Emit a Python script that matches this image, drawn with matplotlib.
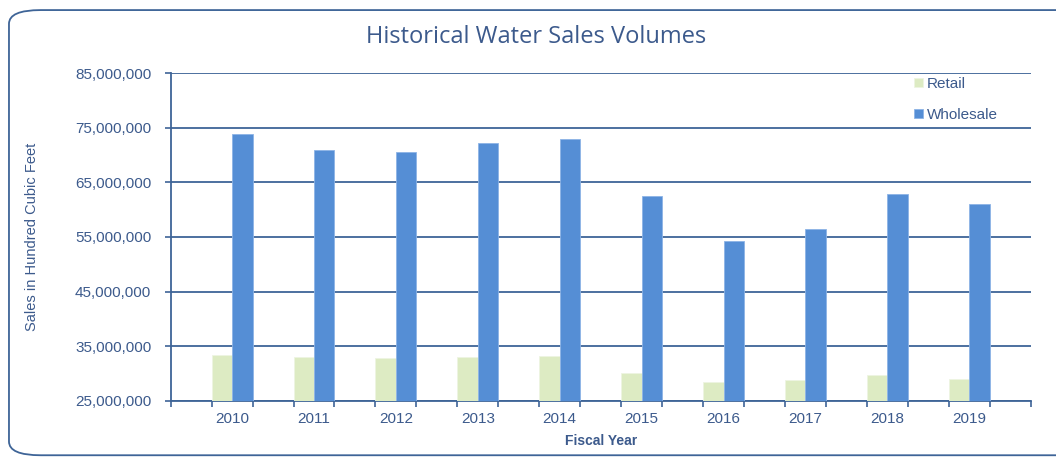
import numpy as np
import matplotlib.pyplot as plt
from matplotlib.patches import FancyBboxPatch
from matplotlib.ticker import FuncFormatter

# Annual sales volumes (hundred cubic feet)
years = ['2010', '2011', '2012', '2013', '2014', '2015', '2016', '2017', '2018', '2019']
retail = [33.5e6, 33.0e6, 32.8e6, 33.0e6, 33.2e6, 30.2e6, 28.5e6, 28.8e6, 29.8e6, 29.0e6]
wholesale = [73.8e6, 71.0e6, 70.5e6, 72.2e6, 72.9e6, 62.5e6, 54.3e6, 56.5e6, 62.9e6, 61.0e6]

text_col = '#3C5A8C'
line_col = '#3E6497'
retail_col = '#DDEBC3'
wholesale_col = '#558ED5'

plt.rcParams['font.family'] = ['Liberation Sans', 'DejaVu Sans']

fig = plt.figure(figsize=(10.56, 4.58), dpi=100)
ax = fig.add_axes([0.1616, 0.1245, 0.8145, 0.7161])

# rounded frame around the whole chart
frame = FancyBboxPatch((0.0085, 0.006), 1.2, 0.972,
                       boxstyle='round,pad=0,rounding_size=0.03',
                       transform=fig.transFigure, facecolor='none',
                       edgecolor=line_col, linewidth=1.3, clip_on=False)
fig.patches.append(frame)

x = np.arange(len(years))
w = 0.25
ax.bar(x - w / 2, retail, width=w, color=retail_col, edgecolor='#EEF5E2',
       linewidth=0.6, label='Retail', zorder=3)
ax.bar(x + w / 2, wholesale, width=w, color=wholesale_col, edgecolor='#8DB4E6',
       linewidth=0.6, label='Wholesale', zorder=3)

ax.set_xlim(-0.75, len(years) - 0.25)
ax.set_ylim(25e6, 85e6)
ax.set_yticks(np.arange(25e6, 85e6 + 1, 10e6))
ax.yaxis.set_major_formatter(FuncFormatter(lambda v, p: f'{v:,.0f}'))

# unlabeled ticks at the bar edges, year labels at the group centres
ax.set_xticks(np.arange(-0.75, len(years) - 0.25 + 0.01, 0.5))
ax.set_xticklabels([])
ax.set_xticks(x, minor=True)
ax.set_xticklabels(years, minor=True)
ax.tick_params(axis='x', which='minor', length=0, pad=8)
ax.tick_params(axis='x', which='major', length=4, width=1.2, color=line_col)
ax.tick_params(axis='y', length=4, width=1.2, color=line_col, pad=10)
ax.tick_params(axis='both', which='both', labelsize=11, labelcolor=text_col)

ax.grid(axis='y', color=line_col, linewidth=1.3, zorder=1)
ax.set_axisbelow(True)
for s in ['top', 'right']:
    ax.spines[s].set_visible(False)
for s in ['left', 'bottom']:
    ax.spines[s].set_color(line_col)
    ax.spines[s].set_linewidth(1.3)

fig.suptitle('Historical Water Sales Volumes', x=0.508, y=0.945, fontsize=17,
             color=text_col, fontweight='medium',
             family=['Open Sans', 'DejaVu Sans'])
ax.set_xlabel('Fiscal Year', fontsize=10, color=text_col, fontweight='bold',
              labelpad=6)
ax.set_ylabel('Sales in Hundred Cubic Feet', fontsize=10.5, color=text_col)
ax.yaxis.set_label_coords(-0.153, 0.5)

leg = ax.legend(loc='upper right', bbox_to_anchor=(0.978, 1.03), frameon=False,
                fontsize=11, handlelength=0.55, handleheight=0.55,
                handletextpad=0.3, labelspacing=1.1, labelcolor=text_col)

fig.savefig('out.png', dpi=100)
